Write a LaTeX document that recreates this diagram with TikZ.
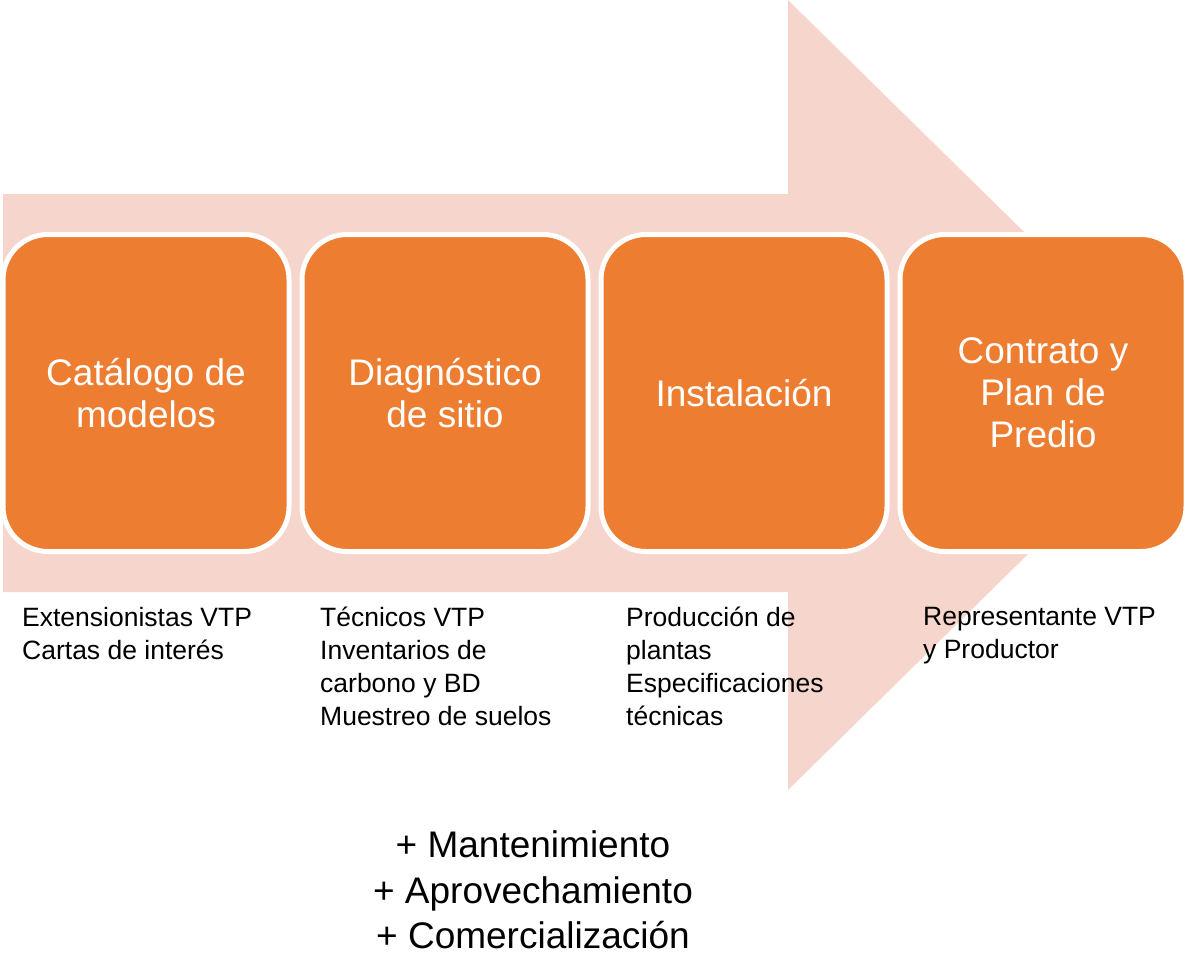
\documentclass[tikz,border=0pt]{standalone}
\usepackage{fontspec}
\setmainfont{Liberation Sans}
\usepackage{tikz}
\definecolor{pink}{rgb}{0.965, 0.839, 0.8}
\definecolor{orange}{rgb}{0.929, 0.49, 0.192}

\tikzset{
    stepbox/.style={draw=white,line width=5pt,fill=orange,rounded corners=45pt,minimum width=286pt,minimum height=317pt,text=white,align=center,font=\fontsize{37}{42}\selectfont},
    notes/.style={anchor=north west,inner sep=0pt,align=left,font=\fontsize{26.5}{33}\selectfont}
}

\begin{document}
\begin{tikzpicture}[x=1pt,y=-1pt]
        \useasboundingbox (0,0) rectangle (1184,954);
        
        % big arrow behind
        \draw[draw=none,fill=pink] (3,194) -- (788,194) -- (788,0) -- (1190,395) -- (788,790) -- (788,592) -- (3,592) -- cycle;
        
        % steps
        \foreach \name/\x/\txt in {catalogo/146/{Catálogo de\\modelos},diagnostico/445/{Diagnóstico\\de sitio},instalacion/744/{Instalación},contrato/1043/{Contrato y\\Plan de\\Predio}}{
            \node[stepbox] (\name) at (\x,393) {\txt};
        }
        
        % who and what, under each step
        \node[notes] (catalogo-notes) at (22,607) {Extensionistas VTP\\Cartas de interés};
        \node[notes] (diagnostico-notes) at (320,607) {Técnicos VTP\\Inventarios de\\carbono y BD\\Muestreo de suelos};
        \node[notes] (instalacion-notes) at (626,607) {Producción de\\plantas\\Especificaciones\\técnicas};
        \node[notes] (contrato-notes) at (923,607) {Representante VTP\\y Productor};
        
        \node[inner sep=0pt,align=center,font=\fontsize{37}{45.5}\selectfont] (extras) at (533,890) {+ Mantenimiento\\+ Aprovechamiento\\+ Comercialización};
    \end{tikzpicture}
\end{document}
